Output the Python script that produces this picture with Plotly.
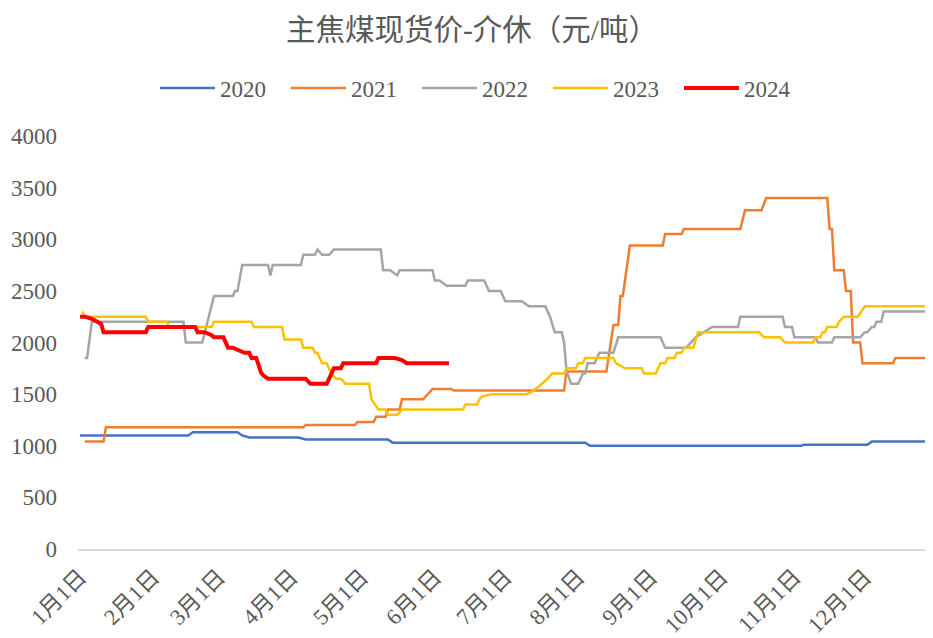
import plotly.graph_objects as go

BASE_YEAR = 2021  # common axis year (month-day only matters)

title_text = "主焦煤现货价-介休（元/吨）"
series_names = ["2020", "2021", "2022", "2023", "2024"]
series_colors = ["#4472C4", "#ED7D31", "#A5A5A5", "#FFC000", "#FF0000"]
series_widths = [2.5, 2.5, 2.5, 2.5, 4]

month_ticks = ["01-01", "02-01", "03-01", "04-01", "05-01", "06-01",
               "07-01", "08-01", "09-01", "10-01", "11-01", "12-01"]
month_labels = ["1月1日", "2月1日", "3月1日", "4月1日", "5月1日", "6月1日",
                "7月1日", "8月1日", "9月1日", "10月1日", "11月1日", "12月1日"]
y_ticks = [0, 500, 1000, 1500, 2000, 2500, 3000, 3500, 4000]

dates_2020 = ["01-01", "02-16", "02-18", "03-09", "03-11", "03-14", "04-04", "04-07",
              "05-12", "05-14", "08-04", "08-06", "11-04", "11-05", "12-02", "12-04", "12-30"]
vals_2020 = [1100, 1100, 1130, 1130, 1100, 1080, 1080, 1060,
             1060, 1030, 1030, 1000, 1000, 1010, 1010, 1040, 1040]

dates_2021 = ["01-03", "01-11", "01-12", "04-06", "04-07", "04-28", "04-29", "05-06", "05-07",
              "05-11", "05-12", "05-17", "05-18", "05-27", "05-31", "06-08", "06-09", "07-26",
              "07-27", "08-13", "08-16", "08-18", "08-19", "08-20", "08-23", "09-06", "09-07",
              "09-14", "09-15", "10-09", "10-11", "10-18", "10-20", "11-15", "11-16", "11-17",
              "11-18", "11-22", "11-23", "11-25", "11-26", "11-29", "11-30", "12-13", "12-14", "12-30"]
vals_2021 = [1040, 1040, 1180, 1180, 1200, 1200, 1230, 1230, 1280,
             1280, 1350, 1350, 1450, 1450, 1550, 1550, 1535, 1535,
             1720, 1720, 2170, 2170, 2450, 2450, 2940, 2940, 3050,
             3050, 3100, 3100, 3280, 3280, 3400, 3400, 3100, 3100,
             2700, 2700, 2500, 2500, 2000, 2000, 1800, 1800, 1850, 1850]

dates_2022 = ["01-03", "01-04", "01-06", "02-14", "02-15", "02-22", "02-27", "03-07", "03-08",
              "03-09", "03-11", "03-22", "03-23", "03-24", "04-05", "04-06", "04-11", "04-12",
              "04-14", "04-17", "04-19", "05-09", "05-10", "05-13", "05-16", "05-17", "05-31",
              "06-01", "06-03", "06-06", "06-14", "06-15", "06-22", "06-24", "06-29", "07-01",
              "07-08", "07-11", "07-18", "07-20", "07-22", "07-25", "07-26", "07-27", "07-29",
              "08-01", "08-03", "08-04", "08-05", "08-08", "08-10", "08-16", "08-18", "09-05",
              "09-07", "09-16", "09-20", "09-27", "10-08", "10-09", "10-27", "10-28", "10-31",
              "11-01", "11-10", "11-11", "11-17", "11-18", "11-29", "12-01", "12-02", "12-04",
              "12-05", "12-06", "12-08", "12-09", "12-30"]
vals_2022 = [1850, 1850, 2200, 2200, 2000, 2000, 2450, 2450, 2500,
             2500, 2750, 2750, 2650, 2750, 2750, 2850, 2850, 2900,
             2850, 2850, 2900, 2900, 2700, 2700, 2650, 2700, 2700,
             2600, 2600, 2550, 2550, 2600, 2600, 2500, 2500, 2400,
             2400, 2350, 2350, 2250, 2100, 2100, 2000, 1730, 1600,
             1600, 1700, 1700, 1800, 1800, 1900, 1900, 2050, 2050,
             1950, 1950, 2050, 2150, 2150, 2250, 2250, 2150, 2150,
             2050, 2050, 2000, 2000, 2050, 2050, 2100, 2100, 2150,
             2150, 2200, 2200, 2300, 2300]

dates_2023 = ["01-02", "01-03", "01-29", "01-30", "02-07", "02-08", "02-26", "02-27", "03-15",
              "03-16", "03-28", "03-29", "04-05", "04-06", "04-10", "04-11", "04-12", "04-14",
              "04-16", "04-18", "04-20", "04-22", "04-24", "05-04", "05-05", "05-08", "05-11",
              "05-12", "05-16", "05-18", "06-13", "06-14", "06-19", "06-20", "06-21", "06-25",
              "07-10", "07-12", "07-15", "07-17", "07-19", "07-21", "07-26", "07-27", "07-31",
              "08-01", "08-03", "08-04", "08-16", "08-17", "08-21", "08-28", "08-29", "09-03",
              "09-05", "09-07", "09-08", "09-11", "09-12", "09-14", "09-15", "09-19", "09-21",
              "10-17", "10-19", "10-26", "10-28", "11-09", "11-10", "11-12", "11-13", "11-14",
              "11-15", "11-19", "11-20", "11-22", "11-28", "12-01", "12-27", "12-29"]
vals_2023 = [2300, 2250, 2250, 2200, 2200, 2150, 2150, 2200, 2200,
             2150, 2150, 2030, 2030, 1950, 1950, 1900, 1900, 1800,
             1800, 1690, 1650, 1650, 1600, 1600, 1450, 1350, 1350,
             1300, 1300, 1350, 1350, 1400, 1400, 1450, 1475, 1500,
             1500, 1520, 1570, 1610, 1650, 1700, 1700, 1750, 1750,
             1800, 1800, 1850, 1850, 1800, 1750, 1750, 1700, 1700,
             1800, 1800, 1850, 1850, 1900, 1900, 1950, 1950, 2100,
             2100, 2050, 2050, 2000, 2000, 2050, 2050, 2100, 2100,
             2150, 2150, 2200, 2250, 2250, 2350, 2350, 2250]

dates_2024 = ["01-01", "01-03", "01-06", "01-08", "01-10", "01-11", "01-29", "01-30", "02-19",
              "02-20", "02-23", "02-26", "02-27", "03-03", "03-05", "03-07", "03-09", "03-12",
              "03-14", "03-15", "03-17", "03-19", "03-20", "03-22", "04-07", "04-09", "04-16",
              "04-19", "04-22", "04-23", "05-07", "05-08", "05-15", "05-18", "05-20", "06-07"]
vals_2024 = [2250, 2250, 2230, 2200, 2180, 2100, 2100, 2150, 2150,
             2100, 2100, 2070, 2050, 2050, 1950, 1950, 1930, 1900,
             1900, 1850, 1850, 1710, 1680, 1650, 1650, 1600, 1600,
             1750, 1750, 1800, 1800, 1850, 1850, 1830, 1800, 1800]

all_dates = [dates_2020, dates_2021, dates_2022, dates_2023, dates_2024]
all_vals = [vals_2020, vals_2021, vals_2022, vals_2023, vals_2024]

def to_date(md):
    return f"{BASE_YEAR}-{md}"

TEXT = "#595959"
SERIF = "Liberation Serif, Noto Sans CJK SC, serif"

# page body has a default 8px margin, so the figure is sized 8px smaller
W, H = 925, 630

fig = go.Figure()
for name, col, w, ds, vs in zip(series_names, series_colors, series_widths, all_dates, all_vals):
    fig.add_trace(go.Scatter(
        x=[to_date(d) for d in ds], y=vs, name=name, mode="lines",
        line=dict(color=col, width=w),
    ))

fig.update_layout(
    width=W, height=H,
    margin=dict(l=70, r=0, t=128, b=89),
    paper_bgcolor="white", plot_bgcolor="white",
    title=dict(text=title_text, x=(472 - 8) / W, xref="container", xanchor="center",
               y=1 - 22 / H, yref="container", yanchor="middle",
               font=dict(family=SERIF, size=29.5, color=TEXT)),
    legend=dict(orientation="h", x=0.090, xanchor="left", y=(549 - 88) / 413, yanchor="middle",
                font=dict(family=SERIF, size=23, color=TEXT),
                itemwidth=55,
                entrywidth=61, entrywidthmode="pixels", bgcolor="rgba(0,0,0,0)"),
    showlegend=True,
)
fig.update_xaxes(
    type="date",
    range=[f"{BASE_YEAR - 1}-12-31 03:00", f"{BASE_YEAR}-12-30 00:00"],
    tickmode="array",
    tickvals=[to_date(t) for t in month_ticks],
    ticktext=month_labels,
    tickangle=-45,
    tickfont=dict(family=SERIF, size=22.5, color=TEXT),
    showgrid=False, zeroline=False,
    showline=True, linecolor="#D9D9D9", linewidth=1.5,
    ticks="", ticklabelstandoff=4, automargin=False,
)
fig.update_yaxes(
    range=[0, 4000],
    tickmode="array", tickvals=y_ticks,
    tickfont=dict(family=SERIF, size=23, color=TEXT),
    showgrid=False, zeroline=False, showline=False,
    ticks="", ticklabelstandoff=20, automargin=False,
)

fig.write_html("out.html")
